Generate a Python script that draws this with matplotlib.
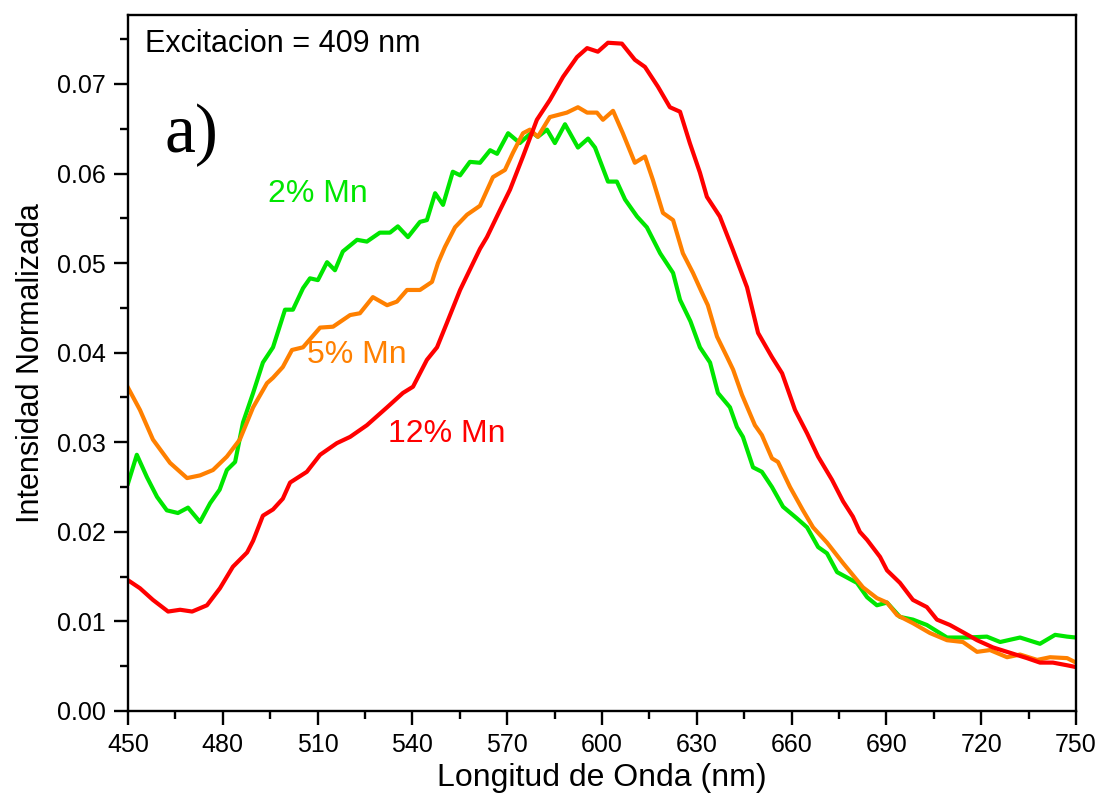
import numpy as np
import matplotlib
matplotlib.use("Agg")
import matplotlib.pyplot as plt
from matplotlib.ticker import MultipleLocator

plt.rcParams['font.family'] = ['Liberation Sans', 'DejaVu Sans']

# 2% Mn (green)
x_2 = [450, 452.8, 456, 459.2, 462.3, 465.8, 469, 472.8, 476, 479, 481.3, 483.9, 486.4,
       489.6, 492.7, 495.9, 499.7, 502.2, 505.4, 507.6, 510.1, 513, 515.5, 518, 522.5,
       525.6, 529.7, 532.9, 535.4, 538.6, 542.4, 544.6, 547.2, 549.7, 552.8, 555.1, 558.2,
       561.4, 564.6, 566.8, 570.3, 574, 577.8, 579.7, 582.6, 585.1, 588.3, 592.4, 595.6,
       597.8, 601.9, 604.7, 607.3, 611.1, 614.2, 618.4, 622.5, 624.7, 628, 631, 634.2,
       636.7, 640.5, 642.7, 644.6, 647.8, 650.6, 653.8, 657.3, 661.7, 664.9, 668.4, 671.2,
       674.4, 680.7, 683.9, 687.0, 690.2, 694.3, 698.4, 702.8, 709.2, 715.5, 721.8, 726,
       732.3, 738.6, 743.4, 747.2, 750]
y_2 = [0.0254, 0.0286, 0.0261, 0.0239, 0.0224, 0.0221, 0.0227, 0.0211, 0.0232, 0.0247,
       0.0269, 0.0278, 0.0322, 0.0355, 0.0389, 0.0406, 0.0448, 0.0448, 0.0472, 0.0483,
       0.0481, 0.0501, 0.0492, 0.0513, 0.0526, 0.0524, 0.0534, 0.0534, 0.0541, 0.0529,
       0.0546, 0.0548, 0.0578, 0.0565, 0.0602, 0.0598, 0.0613, 0.0612, 0.0626, 0.0622,
       0.0645, 0.0634, 0.0646, 0.0641, 0.0649, 0.0634, 0.0655, 0.0629, 0.0639, 0.0629,
       0.0591, 0.0591, 0.0571, 0.0552, 0.0540, 0.0511, 0.0489, 0.0459, 0.0435, 0.0406,
       0.0389, 0.0355, 0.0339, 0.0317, 0.0306, 0.0272, 0.0267, 0.0250, 0.0228, 0.0215,
       0.0205, 0.0183, 0.0176, 0.0155, 0.0143, 0.0127, 0.0118, 0.0121, 0.0105, 0.0102,
       0.0096, 0.0082, 0.0082, 0.0083, 0.0077, 0.0082, 0.0075, 0.0085, 0.0083, 0.0082]

# 5% Mn (orange)
x_5 = [450, 453.8, 457.9, 463.3, 468.7, 472.8, 476.9, 481.3, 485.4, 489.6, 494, 495.9,
       499, 501.9, 505.4, 510.8, 514.9, 520.3, 523.4, 527.5, 532, 535.1, 538.3, 542.4,
       546.2, 548.1, 550.3, 553.5, 557.3, 561.4, 565.5, 569.3, 571.8, 575, 577.2, 579.7,
       583.5, 588.9, 592.4, 595.3, 598.4, 600.3, 603.5, 606.6, 610.4, 613.6, 616.1, 619.3,
       622.5, 625.6, 628.8, 631.5, 633.5, 636.4, 639.6, 641.5, 644.3, 648.4, 650.6, 653.8,
       655.7, 659.5, 663.6, 666.8, 671.2, 676.3, 682.6, 687.0, 690.2, 693.4, 698.4, 703.8,
       709.2, 714.2, 718.7, 722.8, 728.2, 732.3, 737.7, 741.8, 747.2, 750]
y_5 = [0.0361, 0.0336, 0.0303, 0.0277, 0.0260, 0.0263, 0.0269, 0.0284, 0.0303, 0.0339,
       0.0366, 0.0372, 0.0384, 0.0403, 0.0406, 0.0428, 0.0429, 0.0442, 0.0444, 0.0462,
       0.0453, 0.0457, 0.0470, 0.0470, 0.0479, 0.0500, 0.0518, 0.0540, 0.0554, 0.0564,
       0.0596, 0.0604, 0.0623, 0.0645, 0.0649, 0.0641, 0.0663, 0.0668, 0.0674, 0.0668,
       0.0668, 0.0660, 0.0670, 0.0645, 0.0612, 0.0619, 0.0593, 0.0556, 0.0548, 0.0511,
       0.0489, 0.0468, 0.0453, 0.0418, 0.0395, 0.0381, 0.0353, 0.0319, 0.0308, 0.0282,
       0.0278, 0.0250, 0.0224, 0.0205, 0.0188, 0.0165, 0.0138, 0.0126, 0.0121, 0.0107,
       0.0098, 0.0087, 0.0079, 0.0077, 0.0066, 0.0068, 0.0060, 0.0063, 0.0057, 0.0060,
       0.0059, 0.0054]

# 12% Mn (red)
x_12 = [450, 453.8, 457.9, 462.7, 466.5, 470.3, 475, 479.1, 483.2, 487.7, 489.6, 492.7,
        495.9, 499, 501.3, 506.6, 510.8, 516.1, 520.3, 525.6, 532, 537, 540.2, 544.6,
        547.8, 550.9, 555.1, 559.2, 561.4, 563.6, 567.7, 570.9, 575, 579.4, 583.5, 587.7,
        592.1, 595.3, 598.7, 601.9, 606.3, 610.4, 613.6, 617.7, 621.5, 624.7, 627.8, 631,
        633.2, 637.3, 641.3, 645.9, 649.4, 653.8, 657, 661.1, 664.9, 668.4, 672.8, 676.3,
        679.4, 681.6, 683.9, 688, 690.2, 694.3, 698.4, 702.8, 706, 710.1, 714.2, 718.7,
        723.7, 729.1, 734.5, 738.6, 742.7, 747.2, 750]
y_12 = [0.0146, 0.0137, 0.0124, 0.0111, 0.0113, 0.0111, 0.0118, 0.0137, 0.0161, 0.0177,
        0.0190, 0.0218, 0.0225, 0.0237, 0.0255, 0.0267, 0.0286, 0.0299, 0.0306, 0.0319,
        0.0339, 0.0355, 0.0362, 0.0392, 0.0406, 0.0433, 0.0470, 0.0500, 0.0516, 0.0529,
        0.0559, 0.0582, 0.0619, 0.0660, 0.0682, 0.0708, 0.0730, 0.0740, 0.0736, 0.0746,
        0.0745, 0.0727, 0.0719, 0.0697, 0.0674, 0.0669, 0.0634, 0.0601, 0.0574, 0.0552,
        0.0516, 0.0473, 0.0422, 0.0395, 0.0377, 0.0336, 0.0310, 0.0284, 0.0258, 0.0234,
        0.0217, 0.0200, 0.0191, 0.0172, 0.0157, 0.0143, 0.0124, 0.0116, 0.0102, 0.0096,
        0.0088, 0.0079, 0.0071, 0.0065, 0.0059, 0.0054, 0.0054, 0.0051, 0.0049]

green = '#00e600'
orange = '#ff8000'
red = '#ff0000'

fig = plt.figure(figsize=(11.08, 8.05), dpi=100)
ax = fig.add_axes([0.1155, 0.1168, 0.8556, 0.8646])

ax.plot(x_2, y_2, color=green, lw=3)
ax.plot(x_5, y_5, color=orange, lw=3)
ax.plot(x_12, y_12, color=red, lw=3)

ax.set_xlim(450, 750)
ax.set_ylim(0, 0.0777)
ax.xaxis.set_major_locator(MultipleLocator(30))
ax.xaxis.set_minor_locator(MultipleLocator(15))
ax.yaxis.set_major_locator(MultipleLocator(0.01))
ax.yaxis.set_minor_locator(MultipleLocator(0.005))
ax.yaxis.set_major_formatter(plt.FuncFormatter(lambda v, p: f'{v:.2f}'))

ax.tick_params(which='both', direction='out', width=1.7, labelsize=18, top=False, right=False)
ax.tick_params(which='major', length=10, pad=6)
ax.tick_params(which='minor', length=6)
for s in ax.spines.values():
    s.set_linewidth(1.7)

ax.set_xlabel('Longitud de Onda (nm)', fontsize=23, labelpad=4)
ax.set_ylabel('Intensidad Normalizada', fontsize=22, labelpad=8)

# annotations
ax.text(0.018, 0.947, 'Excitacion = 409 nm', transform=ax.transAxes, fontsize=22, va='baseline')
ax.text(0.039, 0.803, 'a)', transform=ax.transAxes, fontsize=50, va='baseline',
        family=['Liberation Serif', 'DejaVu Serif'])
ax.text(0.148, 0.731, '2% Mn', transform=ax.transAxes, fontsize=23, color=green, va='baseline')
ax.text(0.189, 0.500, '5% Mn', transform=ax.transAxes, fontsize=23, color=orange, va='baseline')
ax.text(0.274, 0.3865, '12% Mn', transform=ax.transAxes, fontsize=23, color=red, va='baseline')

fig.savefig('out.png', dpi=100)
